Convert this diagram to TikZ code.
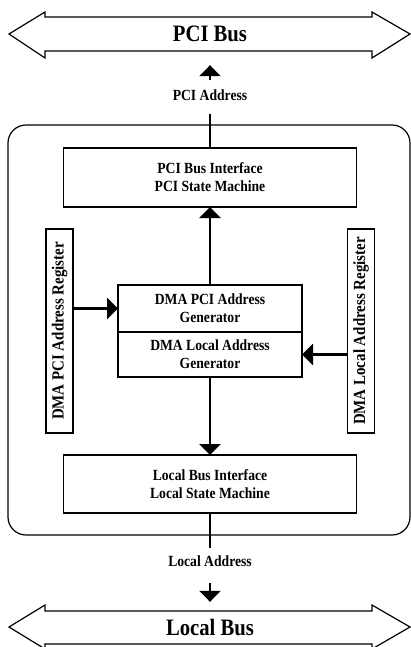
\documentclass[tikz,border=0pt]{standalone}
\usepackage{fontspec}
\setmainfont{Liberation Serif}[FakeStretch=0.88]
\usetikzlibrary{arrows.meta, calc}

\tikzset{
  box/.style={draw, line width=1.2pt, inner sep=0pt, outer sep=0pt, align=center,
    font=\fontsize{15.5}{18}\selectfont\bfseries},
  regbox/.style={box, rotate=90, minimum width=204pt, minimum height=27pt,
    font=\fontsize{17}{18}\selectfont\bfseries},
  lbl/.style={inner sep=0pt, font=\fontsize{15.5}{18}\selectfont\bfseries},
  buslbl/.style={inner sep=0pt, minimum height=34pt,
    font=\fontsize{23.5}{28}\selectfont\bfseries},
  bus/.style={draw, line width=1.2pt, line join=miter},
  arr/.style={line width=2.2pt, -{Triangle[length=11pt, width=21pt]}},
  wire/.style={line width=2.2pt}
}

\begin{document}
\begin{tikzpicture}[x=1pt, y=-1pt]
\useasboundingbox (0,0) rectangle (411,647);

% PCI bus
\draw[bus] (9,34) -- (45,12) -- (45,17) -- (372,17) -- (372,12) -- (410,34)
  -- (372,58) -- (372,51) -- (45,51) -- (45,58) -- cycle;
\node[buslbl] (pcibus) at (210,34) {PCI Bus};

% Local bus
\draw[bus] (9,627) -- (45,605) -- (45,611) -- (372,611) -- (372,605) -- (410,627)
  -- (372,649) -- (372,644) -- (45,644) -- (45,649) -- cycle;
\node[buslbl] (localbus) at (210,627) {Local Bus};

% Chip outline
\draw[line width=1.2pt, rounded corners=18pt] (8,125) rectangle (410,535);

% Blocks
\node[box, minimum width=293pt, minimum height=59pt] (pcibox) at (210,177.5)
  {PCI Bus Interface\\PCI State Machine};
\node[box, minimum width=184pt, minimum height=47pt] (dmapci) at (210,308.5)
  {DMA PCI Address\\Generator};
\node[box, minimum width=184pt, minimum height=45pt, anchor=north] (dmalocal)
  at (dmapci.south) {DMA Local Address\\Generator};
\node[box, minimum width=293pt, minimum height=58pt] (localbox) at (210,484)
  {Local Bus Interface\\Local State Machine};

% Registers
\node[regbox] (pcireg) at (59.5,331) {DMA PCI Address Register};
\node[regbox] (localreg) at (361,331) {DMA Local Address Register};

% Address labels
\node[lbl, minimum height=30pt] (pciaddr) at (210,95) {PCI Address};
\node[lbl, minimum height=26pt] (localaddr) at (210,561) {Local Address};

% Connections
\draw[arr, shorten >=14pt] (pciaddr.north) -- (pcibus.south);
\draw[wire, shorten <=4pt] (pciaddr.south) -- (pcibox.north);
\draw[arr] (dmapci.north) -- (pcibox.south);
\draw[arr] (pcireg.south |- dmapci.west) -- (dmapci.west);
\draw[arr] (localreg.north |- dmalocal.east) -- (dmalocal.east);
\draw[arr] (dmalocal.south) -- (localbox.north);
\draw[wire] (localbox.south) -- (localaddr.north);
\draw[arr, shorten <=9pt, shorten >=8pt] (localaddr.south) -- (localbus.north);

\end{tikzpicture}
\end{document}
